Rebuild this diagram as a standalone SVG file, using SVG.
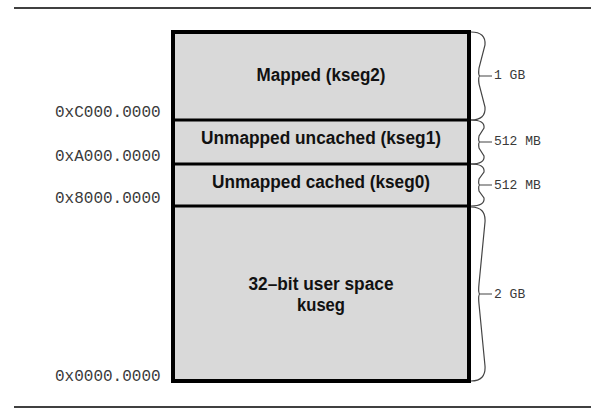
<svg xmlns="http://www.w3.org/2000/svg" width="605" height="413" viewBox="0 0 605 413">
<style>
.seg{fill:#d9d9d9;stroke:none}
.bord{fill:none;stroke:#000;stroke-width:4}
.sep{stroke:#000;stroke-width:3}
.lbl{font-family:"Liberation Sans",Arial,sans-serif;font-weight:bold;font-size:18px;fill:#111;text-anchor:middle}
.addr{font-family:"Liberation Mono","Courier New",monospace;font-size:16px;fill:#3a3a3a}
.sz{font-family:"Liberation Mono","Courier New",monospace;font-size:13px;fill:#3a3a3a}
.brace{fill:none;stroke:#444;stroke-width:1.2}
.rule{stroke:#000;stroke-width:1.3}
</style>
<line class="rule" x1="14" y1="8" x2="591" y2="8"/>
<line class="rule" x1="14" y1="407" x2="591" y2="407"/>
<g id="kseg2">
<rect class="seg" x="173" y="32" width="296" height="88"/>
<text class="lbl" x="321" y="81" textLength="129" lengthAdjust="spacingAndGlyphs">Mapped (kseg2)</text>
</g>
<g id="kseg1">
<rect class="seg" x="173" y="120" width="296" height="44"/>
<text class="lbl" x="321" y="144" textLength="240" lengthAdjust="spacingAndGlyphs">Unmapped uncached (kseg1)</text>
</g>
<g id="kseg0">
<rect class="seg" x="173" y="164" width="296" height="42"/>
<text class="lbl" x="321" y="187.5" textLength="218" lengthAdjust="spacingAndGlyphs">Unmapped cached (kseg0)</text>
</g>
<g id="kuseg">
<rect class="seg" x="173" y="206" width="296" height="175"/>
<text class="lbl" x="321" y="289.5" textLength="145" lengthAdjust="spacingAndGlyphs">32–bit user space</text>
<text class="lbl" x="321" y="311" textLength="48" lengthAdjust="spacingAndGlyphs">kuseg</text>
</g>
<g id="frame">
<rect class="bord" x="173" y="32" width="296" height="349"/>
<line class="sep" x1="173" y1="120" x2="469" y2="120"/>
<line class="sep" x1="173" y1="164" x2="469" y2="164"/>
<line class="sep" x1="173" y1="206" x2="469" y2="206"/>
</g>
<g id="addresses">
<text class="addr" x="55" y="116.5">0xC000.0000</text>
<text class="addr" x="55" y="160.5">0xA000.0000</text>
<text class="addr" x="55" y="203">0x8000.0000</text>
<text class="addr" x="55" y="381">0x0000.0000</text>
</g>
<g id="connectors">
<path class="brace" d="M471,32 Q486,32 485,45 L479,68 Q478,76 480,76 M480,76 Q478,76 479,84 L485,107 Q486,120 471,120 M480,76 H492"/>
<path class="brace" d="M471,120 Q485,120 484,128 L479,136 Q478,142 480,142 M480,142 Q478,142 479,148 L484,156 Q485,164 471,164 M480,142 H492"/>
<path class="brace" d="M471,164 Q485,164 484,172 L479,179 Q478,185 480,185 M480,185 Q478,185 479,191 L484,198 Q485,206 471,206 M480,185 H492"/>
<path class="brace" d="M471,207 Q486,207 485,222 L479,284 Q478,294 480,294 M480,294 Q478,294 479,304 L485,366 Q486,381 471,381 M480,294 H492"/>
</g>
<g id="sizes">
<text class="sz" x="494" y="79">1 GB</text>
<text class="sz" x="494" y="145">512 MB</text>
<text class="sz" x="494" y="189">512 MB</text>
<text class="sz" x="494" y="298">2 GB</text>
</g>
</svg>
